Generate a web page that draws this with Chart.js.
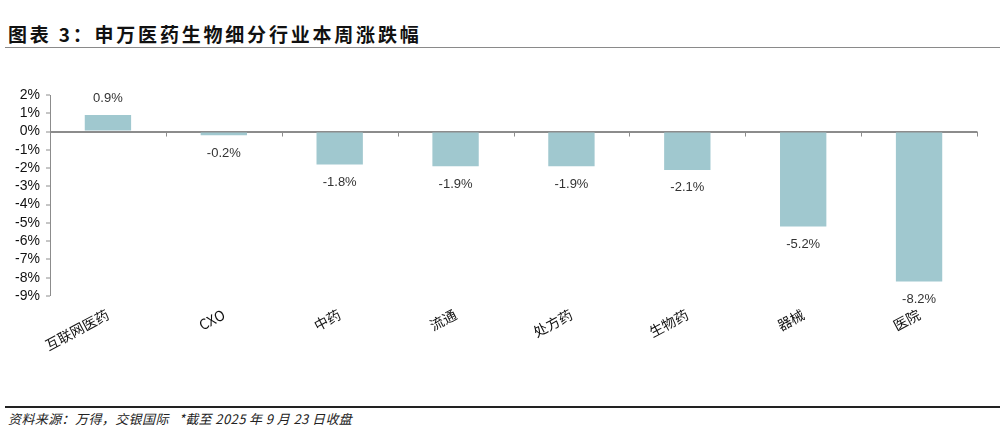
<!DOCTYPE html>
<html>
<head>
<meta charset="utf-8">
<script src="https://cdn.jsdelivr.net/npm/chart.js@4"></script>
<style>
    body { margin: 0; width: 1004px; height: 442px; background: #fff; position: relative; overflow: hidden; }
    .title { position: absolute; left: 8px; top: 20px; font: bold 19px "Noto Sans CJK SC", sans-serif; color: #111; letter-spacing: 2.8px; }
    .topline { position: absolute; left: 5px; right: 4px; top: 47px; border-top: 1px solid #8a8a8a; }
    .bottomline { position: absolute; left: 5px; right: 4px; top: 406px; border-top: 2px solid #222; }
    .source { position: absolute; left: 8px; top: 409px; font: italic 13px "Noto Sans CJK SC", sans-serif; color: #222; letter-spacing: 0.4px; }
    #wrap { position: absolute; left: 0; top: 60px; width: 1004px; height: 340px; }
</style>
</head>
<body>
<div class="title">图表 3：申万医药生物细分行业本周涨跌幅</div>
<div class="topline"></div>
<div id="wrap"><canvas id="chart"></canvas></div>
<div class="bottomline"></div>
<div class="source">资料来源：万得，交银国际&nbsp;&nbsp;&nbsp;*截至 2025 年 9 月 23 日收盘</div>
<script>
const categories = ['互联网医药', 'CXO', '中药', '流通', '处方药', '生物药', '器械', '医院'];
const weeklyChange = [0.9, -0.2, -1.8, -1.9, -1.9, -2.1, -5.2, -8.2];
const yTicks = { min: -9, max: 2, step: 1 };

const axisGrey = '#8c8c8c';

// value labels above / below each bar
const barLabels = {
    id: 'barLabels',
    afterDatasetsDraw(chart) {
        const ctx = chart.ctx;
        const meta = chart.getDatasetMeta(0);
        ctx.save();
        ctx.font = '13px "Liberation Sans", sans-serif';
        ctx.fillStyle = '#333';
        ctx.textAlign = 'center';
        ctx.textBaseline = 'middle';
        meta.data.forEach((bar, i) => {
            const v = weeklyChange[i];
            const y = v >= 0 ? bar.y - 17 : bar.y + 18;
            ctx.fillText(v.toFixed(1) + '%', bar.x, y);
        });
        ctx.restore();
    }
};

// little tick marks on the zero line between categories
const zeroTicks = {
    id: 'zeroTicks',
    afterDatasetsDraw(chart) {
        const ctx = chart.ctx;
        const x = chart.scales.x;
        const y0 = chart.scales.y.getPixelForValue(0);
        ctx.save();
        ctx.strokeStyle = axisGrey;
        ctx.lineWidth = 1;
        for (let i = 0; i <= categories.length; i++) {
            const px = Math.round(x.getPixelForValue(i - 0.5)) + 0.5;
            ctx.beginPath();
            ctx.moveTo(px, y0);
            ctx.lineTo(px, y0 + 5);
            ctx.stroke();
        }
        ctx.restore();
    }
};

const ctx = document.getElementById('chart').getContext('2d');
const chart = new Chart(ctx, {
    type: 'bar',
    data: {
        labels: categories,
        datasets: [{
            data: weeklyChange,
            backgroundColor: '#a0c8cf',
            categoryPercentage: 1,
            barPercentage: 0.4
        }]
    },
    options: {
        responsive: true,
        maintainAspectRatio: false,
        animation: false,
        layout: { padding: { top: 35, right: 27, left: 0, bottom: 0 } },
        plugins: {
            legend: { display: false },
            tooltip: { enabled: false }
        },
        scales: {
            x: {
                offset: true,
                grid: { display: false, drawTicks: false },
                border: { display: false },
                ticks: {
                    minRotation: 28,
                    maxRotation: 28,
                    padding: 10,
                    color: '#111',
                    font: { family: '"Noto Sans CJK SC", sans-serif', size: 14 }
                },
                afterFit(scale) { scale.height = 104; }
            },
            y: {
                min: yTicks.min,
                max: yTicks.max,
                ticks: {
                    stepSize: yTicks.step,
                    autoSkip: false,
                    padding: 6,
                    color: '#111',
                    font: { family: '"Liberation Sans", sans-serif', size: 14 },
                    callback: v => v + '%'
                },
                grid: {
                    color: c => c.tick.value === 0 ? axisGrey : 'rgba(0,0,0,0)',
                    lineWidth: c => c.tick.value === 0 ? 2 : 0,
                    tickColor: axisGrey,
                    tickWidth: 1,
                    tickLength: 4
                },
                border: { display: true, color: axisGrey, width: 1 },
                afterFit(scale) { scale.width = 50; }
            }
        }
    },
    plugins: [barLabels, zeroTicks]
});
</script>
</body>
</html>
